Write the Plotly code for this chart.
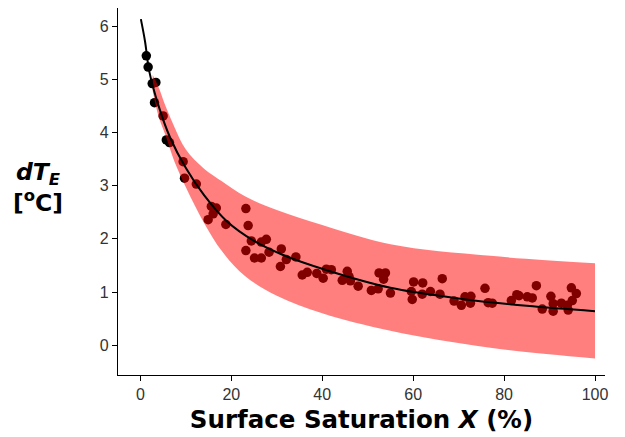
import plotly.graph_objects as go

# Observed data points (Surface Saturation X %, dT_E °C)
obs_x = [1.3, 1.7, 2.6, 3.4, 3.1, 5.0, 5.7, 6.4, 9.4, 9.7, 12.3, 15.6, 16.7, 16.0, 14.9, 18.8,
         23.2, 23.7, 24.4, 23.2, 25.1, 26.6, 26.6, 27.7, 28.3, 31.0, 32.1, 30.8, 34.2, 35.6,
         36.7, 38.8, 40.2, 40.9, 42.0, 44.4, 45.5, 45.9, 46.2, 47.9, 50.8, 52.3, 52.5, 53.9,
         53.5, 55.0, 60.1, 59.6, 59.8, 62.1, 62.0, 63.8, 65.9, 66.4, 69.0, 70.6, 71.4, 72.7,
         72.6, 75.8, 76.5, 77.4, 81.6, 82.8, 83.3, 85.1, 86.2, 87.1, 88.4, 90.3, 90.8, 90.8,
         92.6, 94.1, 94.8, 95.9, 95.0, 93.9]
obs_y = [5.44, 5.23, 4.92, 4.94, 4.56, 4.31, 3.86, 3.81, 3.45, 3.14, 3.03, 2.61, 2.58, 2.47,
         2.36, 2.27, 2.57, 2.25, 1.96, 1.78, 1.64, 1.64, 1.94, 1.99, 1.75, 1.81, 1.61, 1.48,
         1.66, 1.32, 1.37, 1.35, 1.26, 1.43, 1.42, 1.22, 1.39, 1.29, 1.21, 1.11, 1.03, 1.06,
         1.36, 1.36, 1.24, 0.98, 1.19, 1.01, 0.86, 1.17, 0.96, 1.01, 0.96, 1.25, 0.83, 0.75,
         0.91, 0.92, 0.79, 1.07, 0.80, 0.79, 0.84, 0.95, 0.93, 0.91, 0.89, 1.12, 0.68, 0.92,
         0.78, 0.64, 0.79, 0.66, 1.08, 0.97, 0.84, 0.75]

# Fitted curve
fit_x = [0.1, 1, 2, 4, 6.5, 10, 14, 19, 25, 31, 41, 55, 70, 85, 100]
fit_y = [6.13, 5.72, 5.13, 4.50, 3.91, 3.33, 2.82, 2.33, 1.96, 1.71, 1.41, 1.08, 0.88, 0.74, 0.64]

# Uncertainty band edges
band_x = [2.7, 4, 5.5, 7.5, 10, 14, 18, 23, 30, 40, 55, 77, 100]
band_upper = [5.08, 4.85, 4.50, 4.10, 3.68, 3.32, 3.08, 2.80, 2.54, 2.26, 1.90, 1.68, 1.54]
band_lower = [4.78, 4.30, 3.95, 3.45, 2.97, 2.30, 1.76, 1.30, 0.93, 0.60, 0.27, -0.05, -0.25]

x_ticks = [0, 20, 40, 60, 80, 100]
y_ticks = [0, 1, 2, 3, 4, 5, 6]

fig = go.Figure()

# points first (black); the translucent band drawn over them tints them dark red
fig.add_trace(go.Scatter(
    x=obs_x, y=obs_y, mode="markers",
    marker=dict(color="black", size=9.5, line=dict(width=0)),
    showlegend=False, hoverinfo="skip"))

fig.add_trace(go.Scatter(
    x=band_x, y=band_lower, mode="lines", line=dict(width=0, shape="spline"),
    showlegend=False, hoverinfo="skip"))
fig.add_trace(go.Scatter(
    x=band_x, y=band_upper, mode="lines", line=dict(width=0, shape="spline"),
    fill="tonexty", fillcolor="rgba(255,0,0,0.5)",
    showlegend=False, hoverinfo="skip"))

fig.add_trace(go.Scatter(
    x=fit_x, y=fit_y, mode="lines", line=dict(color="black", width=2, shape="spline"),
    showlegend=False, hoverinfo="skip"))

# page body has an 8px margin: size and margins compensate for it
fig.update_layout(
    width=617, height=429,
    margin=dict(l=110, r=20, t=0, b=62),
    paper_bgcolor="white", plot_bgcolor="white",
    font=dict(family="Liberation Sans, Arial, sans-serif"),
)

fig.update_xaxes(
    range=[-4.93, 102.2], tickvals=x_ticks, ticks="outside", ticklen=5, tickcolor="black",
    showline=True, linecolor="black", linewidth=1.3, showgrid=False, zeroline=False,
    tickfont=dict(size=16, color="#333333"),
    title=dict(text="<b>Surface Saturation <i>X</i> (%)</b>",
               font=dict(family="DejaVu Sans, sans-serif", size=24.5, color="black"),
               standoff=8),
)
fig.update_yaxes(
    range=[-0.56, 6.34], tickvals=y_ticks, ticks="outside", ticklen=5, tickcolor="black",
    showline=True, linecolor="black", linewidth=1.3, showgrid=False, zeroline=False,
    tickfont=dict(size=16, color="#333333"),
)

fig.add_annotation(
    xref="paper", yref="paper", x=-0.165, y=0.51, xanchor="center", yanchor="middle",
    text="<b><i>dT<sub>E</sub></i></b><br><b>[<sup>o</sup>C]</b>", showarrow=False,
    font=dict(family="DejaVu Sans, sans-serif", size=23.5, color="black"), align="center")

fig.write_html("out.html")
